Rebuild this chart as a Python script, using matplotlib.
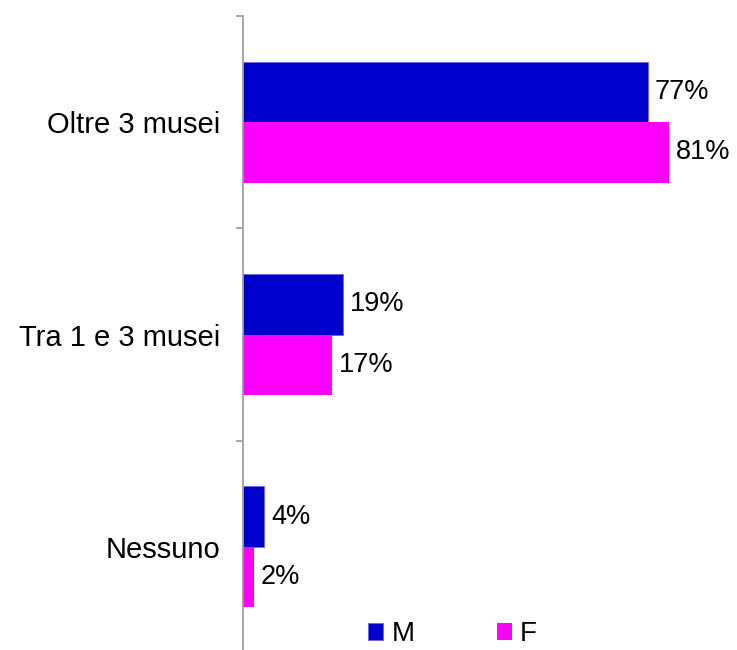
import matplotlib
matplotlib.use('Agg')
import matplotlib.pyplot as plt
import numpy as np

categories = ['Oltre 3 musei', 'Tra 1 e 3 musei', 'Nessuno']
m_values = [77, 19, 4]
f_values = [81, 17, 2]
series_names = ['M', 'F']

plt.rcParams['font.family'] = ['Liberation Sans', 'DejaVu Sans']

fig = plt.figure(figsize=(7.37, 6.5), dpi=100)
ax = fig.add_axes([243 / 737, -3 / 650, 494 / 737, 637 / 650])

y = np.arange(len(categories))
h = 0.285
bars_m = ax.barh(y - h / 2, m_values, height=h, color='#0000CC', edgecolor='#6666EE', linewidth=0.6, label=series_names[0])
bars_f = ax.barh(y + h / 2, f_values, height=h, color='#FF00FF', label=series_names[1])

for bars, vals in [(bars_m, m_values), (bars_f, f_values)]:
    for b, v in zip(bars, vals):
        ax.annotate(f'{v}%', (b.get_width(), b.get_y() + b.get_height() / 2),
                    xytext=(5, 0), textcoords='offset points',
                    ha='left', va='center', fontsize=19.5)

ax.set_xlim(0, 94)
ax.set_ylim(len(categories) - 0.5, -0.5)

# category boundaries as tick marks, labels at the centres
ax.set_yticks(np.arange(len(categories) + 1) - 0.5)
ax.set_yticklabels([])
ax.set_yticks(y, minor=True)
ax.set_yticklabels(categories, minor=True, fontsize=21)
ax.tick_params(axis='y', which='major', length=5, width=1.2, color='#999999')
ax.tick_params(axis='y', which='minor', length=0, pad=16.5)

ax.set_xticks([])
for side in ['top', 'right', 'bottom']:
    ax.spines[side].set_visible(False)
ax.spines['left'].set_color('#999999')
ax.spines['left'].set_linewidth(1.2)

fig.legend(loc='center', bbox_to_anchor=(0.614, 0.024), ncol=2, frameon=False,
           fontsize=20, handlelength=0.55, handleheight=0.55, handletextpad=0.3,
           columnspacing=2.95)

plt.savefig('out.png', dpi=100)
plt.close()
